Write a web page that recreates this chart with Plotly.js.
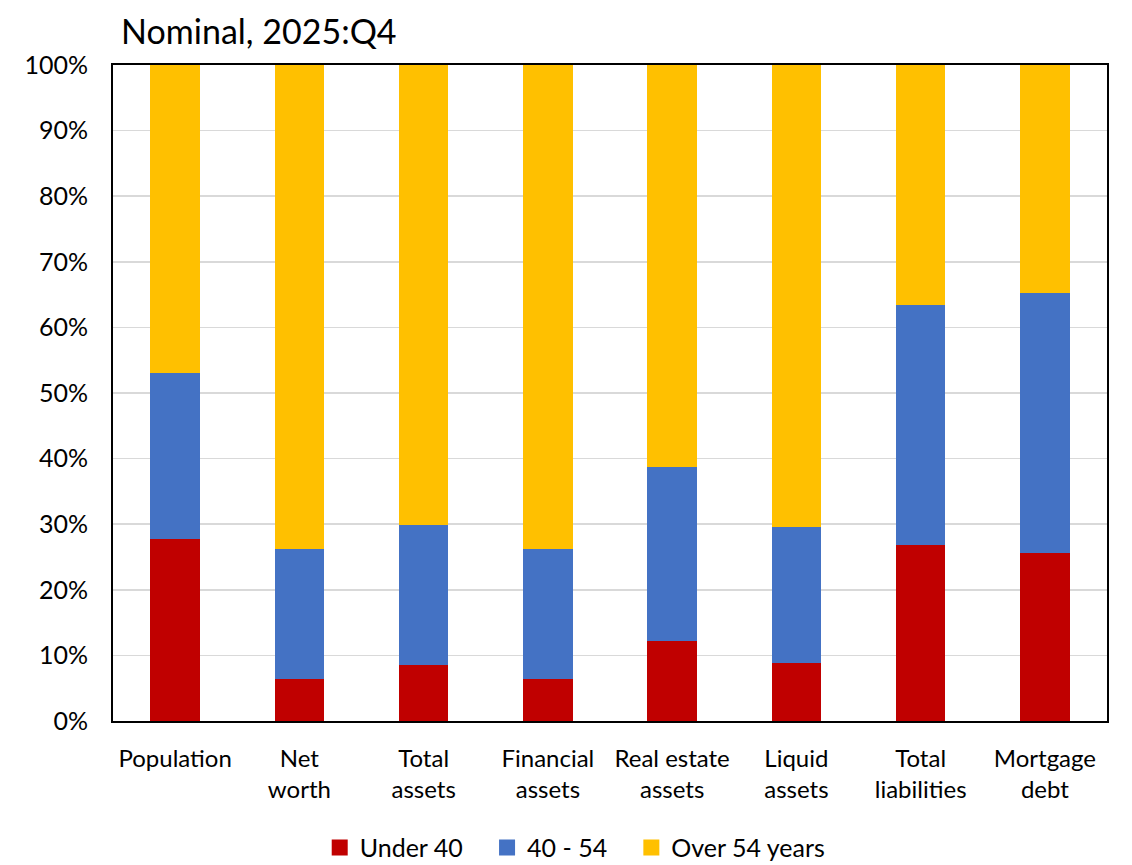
<!DOCTYPE html>
<html><head><meta charset="utf-8">
<script src="https://cdn.plot.ly/plotly-3.0.1.min.js"></script>
<style>body{margin:0;background:#fff}#c{width:1132px;height:865px}</style>
</head><body><div id="c"></div>
<script>
const categories = ["Population","Net<br>worth","Total<br>assets","Financial<br>assets","Real estate<br>assets","Liquid<br>assets","Total<br>liabilities","Mortgage<br>debt"];
const under40 = [27.7, 6.4, 8.5, 6.4, 12.2, 8.8, 26.8, 25.6];
const age40to54 = [25.3, 19.8, 21.4, 19.8, 26.5, 20.8, 36.6, 39.6];
const over54 = [47.0, 73.8, 70.1, 73.8, 61.3, 70.4, 36.6, 34.8];
const seriesNames = ["Under 40","40 - 54","Over 54 years"];
const colors = ["#c00000","#4472c4","#ffc000"];
const font = "Lato, 'Open Sans', sans-serif";
const pad = "\u00a0\u00a0\u00a0";
const bars = [under40, age40to54, over54].map((v,i)=>({
  type:"bar", x:categories, y:v, name:seriesNames[i], marker:{color:colors[i]},
  hoverinfo:"skip", showlegend:false
}));
const legendItems = seriesNames.map((n,i)=>({
  type:"scatter", mode:"markers", x:[null], y:[null],
  name: i < seriesNames.length-1 ? n + pad : n,
  marker:{symbol:"square", size:16, color:colors[i]}, hoverinfo:"skip"
}));
const layout = {
  width:1132, height:865, barmode:"stack", bargap:0.6,
  margin:{l:113, r:25, t:65, b:144, autoexpand:false},
  paper_bgcolor:"#fff", plot_bgcolor:"#fff",
  font:{family:font, color:"#000"},
  title:{text:"Nominal, 2025:Q4", x:0.107, xanchor:"left", y:0.977, yanchor:"top", font:{size:34, family:font, color:"#000"}},
  xaxis:{showline:true, linecolor:"#000", linewidth:2, mirror:true, tickfont:{size:24}, ticks:"", fixedrange:true, automargin:false, ticklabelstandoff:15},
  yaxis:{range:[0,100], dtick:10, ticksuffix:"%", showline:true, linecolor:"#000", linewidth:2, mirror:true, automargin:false,
    gridcolor:"#d9d9d9", gridwidth:1.5, tickfont:{size:25}, ticks:"", zeroline:false, ticklabelstandoff:18},
  legend:{orientation:"h", x:0.465, xanchor:"center", yref:"container", y:0.02, yanchor:"middle", font:{size:25}, traceorder:"normal", itemwidth:30},
  showlegend:true
};
Plotly.newPlot("c", bars.concat(legendItems), layout, {displayModeBar:false, staticPlot:true});
</script></body></html>
